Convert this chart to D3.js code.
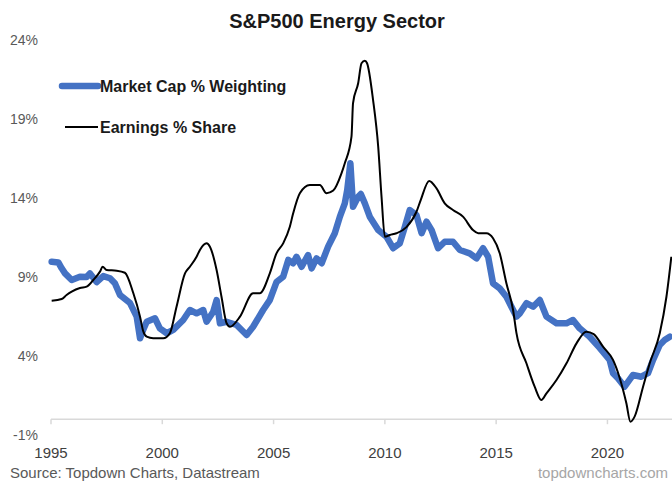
<!DOCTYPE html>
<html>
<head>
<meta charset="utf-8">
<script src="https://cdn.jsdelivr.net/npm/d3@7"></script>
<style>
  html, body { margin: 0; padding: 0; background: #fff; }
  svg { display: block; font-family: "Liberation Sans", Arial, sans-serif; }
</style>
</head>
<body>
<svg id="chart" width="672" height="485"></svg>
<script>
// data (decimal year, % share)
const capYears = [1995.03, 1995.33, 1995.48, 1995.63, 1995.93, 1996.30, 1996.60, 1996.75, 1997.05, 1997.35,
  1997.65, 1997.87, 1998.10, 1998.55, 1998.85, 1999.00, 1999.14, 1999.30, 1999.67, 1999.89,
  2000.20, 2000.49, 2000.94, 2001.24, 2001.54, 2001.84, 2001.99, 2002.29, 2002.44, 2002.59,
  2002.89, 2003.34, 2003.79, 2004.08, 2004.53, 2004.83, 2005.13, 2005.43, 2005.66, 2005.88,
  2006.03, 2006.26, 2006.55, 2006.71, 2006.93, 2007.16, 2007.45, 2007.75, 2007.98, 2008.20,
  2008.31, 2008.45, 2008.57, 2008.80, 2008.92, 2009.10, 2009.32, 2009.70, 2010.07, 2010.37,
  2010.67, 2010.90, 2011.12, 2011.42, 2011.65, 2011.87, 2012.10, 2012.39, 2012.69, 2013.06,
  2013.37, 2013.81, 2014.12, 2014.41, 2014.64, 2014.86, 2015.16, 2015.46, 2015.76, 2015.91,
  2016.06, 2016.36, 2016.66, 2016.96, 2017.26, 2017.71, 2018.16, 2018.45, 2018.75, 2019.20,
  2019.65, 2020.10, 2020.25, 2020.47, 2020.77, 2021.15, 2021.52, 2021.82, 2022.05, 2022.35,
  2022.57, 2022.80];
const capValues = [9.97, 9.92, 9.55, 9.23, 8.81, 9.02, 9.00, 9.23, 8.68, 9.06,
  8.92, 8.60, 7.86, 7.35, 6.49, 5.12, 5.65, 6.17, 6.39, 5.75,
  5.44, 5.65, 6.28, 6.91, 6.70, 6.91, 6.17, 6.80, 7.54, 6.07,
  6.17, 5.96, 5.33, 5.85, 6.91, 7.54, 8.68, 9.02, 10.08, 9.87,
  10.28, 9.65, 10.39, 9.55, 10.18, 9.87, 10.92, 11.77, 12.82, 13.66,
  14.51, 16.20, 13.45, 14.08, 14.25, 13.66, 12.82, 11.97, 11.55, 10.82,
  11.13, 12.18, 13.24, 12.92, 11.77, 12.50, 11.97, 10.82, 11.23, 11.23,
  10.71, 10.50, 10.18, 10.82, 10.28, 8.60, 8.28, 7.75, 6.91, 6.49,
  6.70, 7.34, 7.12, 7.54, 6.49, 6.07, 6.07, 6.28, 5.75, 5.22,
  4.51, 3.75, 2.91, 2.59, 2.06, 2.80, 2.69, 2.91, 3.75, 4.70,
  5.01, 5.22];

const earnYears = [1995.03, 1995.48, 1995.70, 1995.93, 1996.30, 1996.60, 1996.90, 1997.20, 1997.32, 1997.50,
  1997.95, 1998.32, 1998.70, 1999.00, 1999.14, 1999.30, 1999.59, 2000.04, 2000.34, 2000.64,
  2001.02, 2001.24, 2001.54, 2001.69, 2001.99, 2002.14, 2002.44, 2002.66, 2002.89, 2003.04,
  2003.49, 2004.08, 2004.38, 2004.83, 2005.13, 2005.43, 2005.73, 2005.88, 2006.18, 2006.63,
  2007.08, 2007.38, 2007.68, 2008.05, 2008.20, 2008.50, 2008.57, 2008.80, 2008.95, 2009.10,
  2009.20, 2009.47, 2009.70, 2009.85, 2010.00, 2010.22, 2010.52, 2010.97, 2011.42, 2011.61,
  2011.99, 2012.32, 2012.69, 2013.06, 2013.51, 2013.96, 2014.19, 2014.56, 2014.86, 2015.16,
  2015.46, 2015.76, 2015.91, 2016.36, 2016.73, 2017.03, 2017.26, 2017.71, 2018.16, 2018.61,
  2019.05, 2019.38, 2019.80, 2020.25, 2020.55, 2020.85, 2021.03, 2021.22, 2021.60, 2021.90,
  2022.35, 2022.65, 2022.87];
const earnValues = [7.50, 7.61, 7.86, 8.07, 8.30, 8.39, 8.81, 9.34, 9.65, 9.44,
  9.40, 9.27, 7.97, 6.49, 5.58, 5.22, 5.12, 5.12, 5.44, 7.12,
  9.23, 9.65, 10.28, 10.71, 11.13, 10.92, 9.44, 7.75, 6.07, 5.85,
  6.49, 7.97, 7.97, 9.23, 10.50, 11.13, 12.18, 13.03, 14.30, 14.82,
  14.82, 14.30, 14.47, 15.56, 16.20, 17.88, 20.00, 21.26, 22.53, 22.69,
  22.53, 20.20, 17.25, 14.08, 11.55, 11.66, 11.77, 12.16, 13.13, 13.87,
  15.08, 14.61, 13.66, 13.24, 12.82, 11.97, 11.77, 11.77, 11.45, 10.50,
  8.60, 6.91, 5.46, 3.54, 2.06, 1.22, 1.64, 2.48, 3.54, 4.80,
  5.54, 5.39, 4.59, 3.75, 2.61, 1.01, -0.16, 0.16, 2.06, 3.54,
  5.44, 7.75, 10.28];

const yTicks = [-1, 4, 9, 14, 19, 24];
const xTicks = [1995, 2000, 2005, 2010, 2015, 2020];
const seriesNames = ["Market Cap % Weighting", "Earnings % Share"];

const svg = d3.select("#chart");
const W = 672, H = 485;

const x = d3.scaleLinear().domain([1995, 2022.9]).range([51, 672]);
const y = d3.scaleLinear().domain([-1, 24]).range([435, 40]);

// title
svg.append("text")
  .attr("x", 337).attr("y", 28)
  .attr("text-anchor", "middle")
  .attr("font-size", 20).attr("font-weight", "bold")
  .attr("fill", "#1a1a1a")
  .text("S&P500 Energy Sector");

// y labels (no gridlines)
svg.append("g").selectAll("text")
  .data(yTicks)
  .join("text")
  .attr("x", 38)
  .attr("y", d => y(d))
  .attr("dy", "0.35em")
  .attr("text-anchor", "end")
  .attr("font-size", 14)
  .attr("fill", "#595959")
  .text(d => d + "%");

// x axis sits at 0%
const xAxis = svg.append("g").attr("transform", `translate(0,${y(0)})`);
xAxis.append("line")
  .attr("x1", x(1995)).attr("x2", W)
  .attr("stroke", "#d9d9d9").attr("stroke-width", 1.5);
xAxis.selectAll(".tick")
  .data(xTicks)
  .join("line")
  .attr("class", "tick")
  .attr("x1", d => x(d)).attr("x2", d => x(d))
  .attr("y1", 0).attr("y2", 5)
  .attr("stroke", "#d9d9d9").attr("stroke-width", 1.5);

svg.append("g").selectAll("text")
  .data(xTicks)
  .join("text")
  .attr("x", d => x(d))
  .attr("y", 458)
  .attr("text-anchor", "middle")
  .attr("font-size", 15)
  .attr("fill", "#404040")
  .text(d => d);

// series
const capData = capYears.map((t, i) => [t, capValues[i]]);
const earnData = earnYears.map((t, i) => [t, earnValues[i]]);

svg.append("path")
  .datum(capData)
  .attr("d", d3.line().x(d => x(d[0])).y(d => y(d[1])))
  .attr("fill", "none")
  .attr("stroke", "#4472c4")
  .attr("stroke-width", 6.5)
  .attr("stroke-linejoin", "round")
  .attr("stroke-linecap", "round");

svg.append("path")
  .datum(earnData)
  .attr("d", d3.line().x(d => x(d[0])).y(d => y(d[1])).curve(d3.curveMonotoneX))
  .attr("fill", "none")
  .attr("stroke", "#000")
  .attr("stroke-width", 2)
  .attr("stroke-linejoin", "round");

// legend
const legend = svg.append("g");
const legendRows = [
  { name: seriesNames[0], color: "#4472c4", width: 6.5, x0: 62, y: 86 },
  { name: seriesNames[1], color: "#000", width: 2, x0: 65, y: 127 }
];
legendRows.forEach(r => {
  legend.append("line")
    .attr("x1", r.x0).attr("x2", 98)
    .attr("y1", r.y).attr("y2", r.y)
    .attr("stroke", r.color).attr("stroke-width", r.width)
    .attr("stroke-linecap", r.width > 3 ? "round" : "butt");
  legend.append("text")
    .attr("x", 100).attr("y", r.y)
    .attr("dy", "0.35em")
    .attr("font-size", 16).attr("font-weight", "bold")
    .attr("fill", "#1a1a1a")
    .text(r.name);
});

// footer
svg.append("text")
  .attr("x", 10).attr("y", 478)
  .attr("font-size", 15)
  .attr("fill", "#595959")
  .text("Source: Topdown Charts, Datastream");

svg.append("text")
  .attr("x", 668).attr("y", 478)
  .attr("text-anchor", "end")
  .attr("font-size", 15)
  .attr("fill", "#a6a6a6")
  .text("topdowncharts.com");
</script>
</body>
</html>
